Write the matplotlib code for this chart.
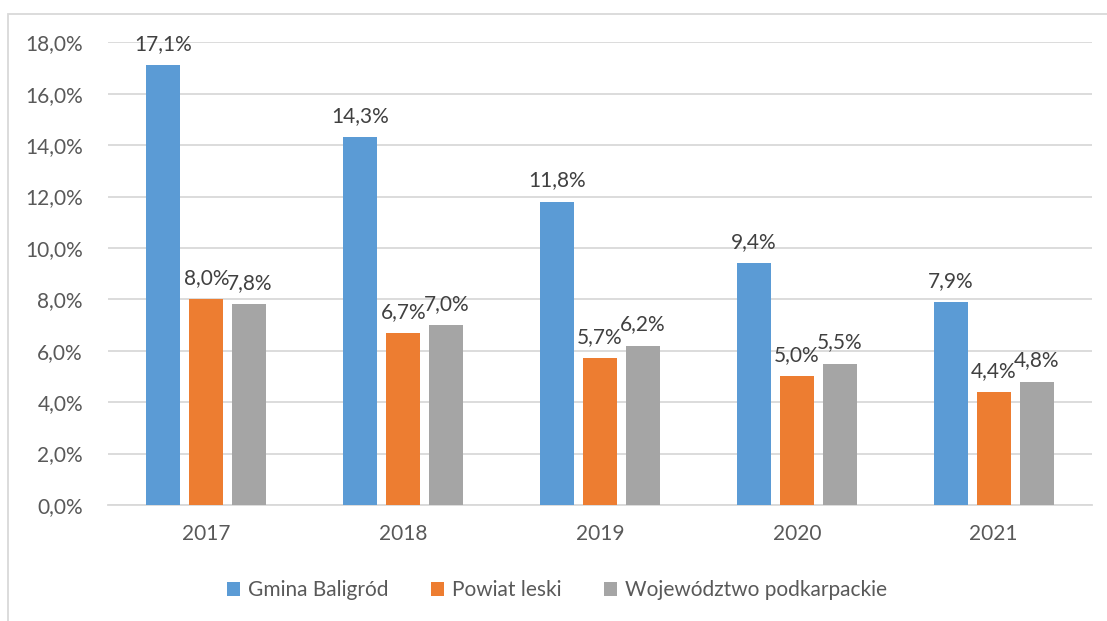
import matplotlib
matplotlib.use("Agg")
import matplotlib.pyplot as plt
from matplotlib.patches import Rectangle
import numpy as np

years = ["2017", "2018", "2019", "2020", "2021"]
series_names = ["Gmina Baligród", "Powiat leski", "Województwo podkarpackie"]
gmina = [17.1, 14.3, 11.8, 9.4, 7.9]
powiat = [8.0, 6.7, 5.7, 5.0, 4.4]
wojew = [7.8, 7.0, 6.2, 5.5, 4.8]
colors = ["#5B9BD5", "#ED7D31", "#A5A5A5"]
yticks = [0, 2, 4, 6, 8, 10, 12, 14, 16, 18]

plt.rcParams['font.family'] = ['Lato', 'DejaVu Sans']
txt = "#595959"
W, H = 1107, 621
fs = 15
fig = plt.figure(figsize=(W/100, H/100), dpi=100)
fig.patches.append(Rectangle((8/W, -0.1), 1.2, 1 - 14/H + 0.1, transform=fig.transFigure,
                             fill=False, edgecolor="#D9D9D9", linewidth=1.3))
ax = fig.add_axes([108/W, 1 - 505/H, (1092-108)/W, (505-42.3)/H])

x = np.arange(len(years))
bw = 0.173
step = 0.2185
for i, (vals, name, c) in enumerate(zip([gmina, powiat, wojew], series_names, colors)):
    pos = x + (i - 1) * step
    ax.bar(pos, vals, width=bw, color=c, label=name, zorder=3)
    for p, v in zip(pos, vals):
        ax.annotate(f"{v:.1f}%".replace(".", ","), (p, v), xytext=(0, 8),
                    textcoords="offset points", ha="center", va="bottom",
                    fontsize=fs, color="#404040", zorder=4)

ax.set_xlim(-0.5, 4.5)
ax.set_ylim(0, 18)
ax.set_yticks(yticks)
ax.set_yticklabels([f"{t:.1f}%".replace(".", ",") for t in yticks])
ax.set_xticks(x)
ax.set_xticklabels(years)
ax.tick_params(axis="both", length=0, labelsize=fs, labelcolor=txt)
ax.tick_params(axis="y", pad=18)
ax.tick_params(axis="x", pad=14)
ax.grid(axis="y", color="#D9D9D9", linewidth=1.3, zorder=0)
for s in ["top", "right", "left"]:
    ax.spines[s].set_visible(False)
ax.spines["bottom"].set_color("#D9D9D9")
ax.spines["bottom"].set_linewidth(1.3)

leg = fig.legend(loc="center", bbox_to_anchor=(557/W, 1 - 590/H), ncol=3, frameon=False,
                 fontsize=fs, handlelength=0.65, handleheight=0.65, columnspacing=2.0,
                 handletextpad=0.4, labelcolor=txt)

fig.savefig("out.png", dpi=100)
